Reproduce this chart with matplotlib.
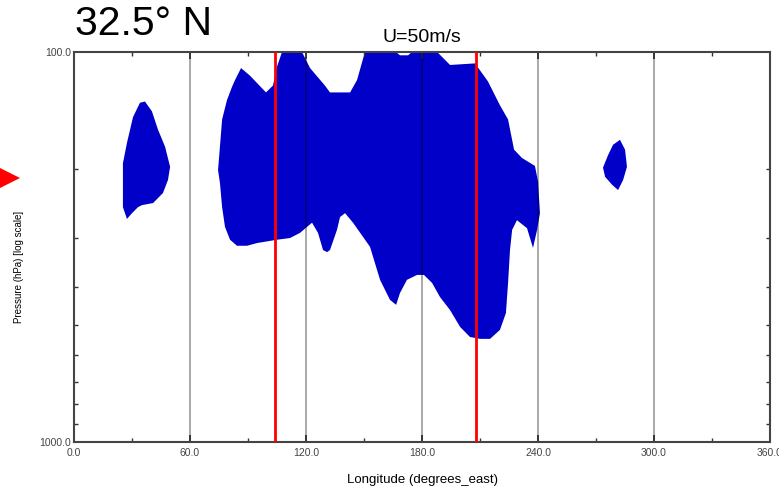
import numpy as np
import matplotlib
matplotlib.use('Agg')
import matplotlib.pyplot as plt
from matplotlib.ticker import FixedLocator, FixedFormatter, NullFormatter

plt.rcParams['font.family'] = ['Liberation Sans', 'DejaVu Sans']

# outline of the U >= 50 m/s region (longitude, pressure hPa)
main_lon = [74.5, 76.6, 79.1, 81.7, 83.3, 86.4, 91.0, 99.3, 102.9, 105.0, 107.6, 117.9,
            122.1, 129.8, 132.4, 142.8, 146.4, 150.5, 166.5, 168.6, 172.8, 174.8, 187.8,
            194.5, 207.4, 214.1, 220.3, 224.5, 227.6, 231.7, 238.4, 240.0, 241.0, 239.5,
            237.4, 234.3, 229.1, 226.6, 225.5, 224.5, 223.4, 220.3, 215.2, 210.0, 204.8,
            199.7, 194.5, 189.3, 185.2, 181.0, 177.4, 172.2, 168.6, 166.6, 163.4, 158.3,
            153.1, 149.5, 144.3, 140.2, 137.6, 136.0, 132.4, 130.9, 128.8, 126.2, 123.1,
            120.5, 116.9, 111.7, 105.0, 94.7, 89.5, 84.3, 80.7, 78.1, 76.6, 75.5]
main_p = [201, 149, 133, 123, 118, 110, 115, 127, 122, 109, 100, 100,
          110, 122, 127, 127, 118, 100, 100, 102, 102, 100, 100,
          108, 107, 119, 137, 149, 178, 187, 196, 215, 259, 286,
          318, 283, 270, 286, 322, 391, 467, 516, 544, 544, 538,
          507, 459, 425, 391, 373, 373, 384, 415, 445, 432, 384,
          316, 298, 274, 259, 265, 286, 322, 326, 322, 291, 274,
          281, 291, 300, 303, 309, 314, 314, 303, 281, 250, 217]

west_lon = [36.7, 40.3, 43.4, 47.1, 49.7, 48.6, 46.0, 40.9, 35.2, 33.1, 30.0, 27.4,
            25.3, 25.3, 27.4, 30.5, 34.1]
west_p = [134, 142, 158, 175, 197, 213, 230, 244, 247, 250, 259, 268,
          250, 193, 171, 147, 135]

east_lon = [282.4, 285.0, 286.0, 284.0, 281.4, 278.3, 274.7, 273.6, 276.2, 278.8]
east_p = [168, 178, 197, 213, 226, 219, 209, 198, 184, 173]

grid_lon = [60, 120, 180, 240, 300]
red_lon = [104, 208]

x_major = [0, 60, 120, 180, 240, 300, 360]
x_labels = ['0.0', '60.0', '120.0', '180.0', '240.0', '300.0', '360.0']
x_minor = [30, 90, 150, 210, 270, 330]
y_major = [100, 1000]
y_labels = ['100.0', '1000.0']
y_minor = [200, 300, 400, 500, 600, 700, 800, 900]

marker_lon, marker_p = -33, 210

fig = plt.figure(figsize=(7.79, 4.90), dpi=100)
ax = fig.add_axes([0.095, 0.098, 0.8935, 0.796])

blue = '#0000c8'
ax.fill(main_lon, main_p, color=blue, lw=0, zorder=1)
ax.fill(west_lon, west_p, color=blue, lw=0, zorder=1)
ax.fill(east_lon, east_p, color=blue, lw=0, zorder=1)

for lon in grid_lon:
    ax.axvline(lon, color='black', alpha=0.4, lw=1.2, zorder=2)
for lon in red_lon:
    ax.axvline(lon, color='red', lw=2, zorder=3)

ax.set_yscale('log')
ax.set_xlim(0, 360)
ax.set_ylim(1000, 100)

ax.xaxis.set_major_locator(FixedLocator(x_major))
ax.xaxis.set_major_formatter(FixedFormatter(x_labels))
ax.xaxis.set_minor_locator(FixedLocator(x_minor))
ax.yaxis.set_major_locator(FixedLocator(y_major))
ax.yaxis.set_major_formatter(FixedFormatter(y_labels))
ax.yaxis.set_minor_locator(FixedLocator(y_minor))
ax.yaxis.set_minor_formatter(NullFormatter())

ax.tick_params(which='both', direction='in', top=True, right=True,
               color='#333333', labelsize=7.5, labelcolor='#444444')
ax.tick_params(which='major', length=5, width=1.2)
ax.tick_params(which='minor', length=3, width=1)
ax.tick_params(axis='x', pad=4)
ax.tick_params(axis='y', pad=2)

for s in ax.spines.values():
    s.set_color('#444444')
    s.set_linewidth(1.5)

ax.set_title('U=50m/s', fontsize=14, pad=7)
ax.set_xlabel('Longitude (degrees_east)', fontsize=9.5, labelpad=12)
ax.set_ylabel('Pressure (hPa) [log scale]', fontsize=7)
ax.yaxis.set_label_coords(-0.072, 0.449)

fig.text(0.0963, 0.9286, '32.5\u00b0 N', fontsize=29.5, va='baseline', ha='left')

ax.plot([marker_lon], [marker_p], marker='>', ms=14.5, color='red', mew=0,
        clip_on=False, zorder=5)

fig.savefig('out.png', dpi=100)
